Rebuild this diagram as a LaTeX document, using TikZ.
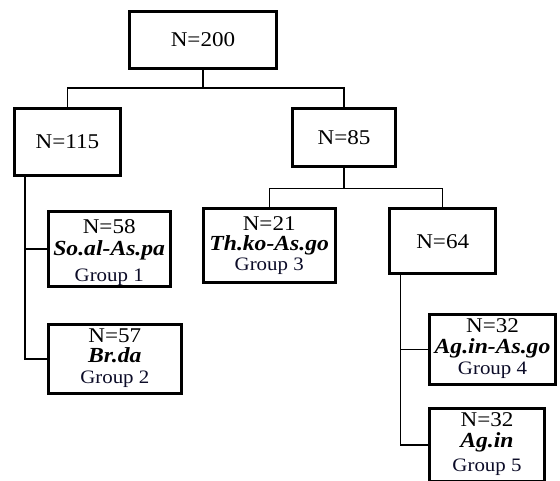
\documentclass[tikz,border=0pt]{standalone}
\usepackage{fontspec}
\usepackage{array}
\setmainfont[FakeStretch=1.1]{Liberation Serif}
\usetikzlibrary{positioning}
\definecolor{groupink}{RGB}{12,12,40}
\setlength{\tabcolsep}{0pt}
\tikzstyle{bigbox} = [rectangle, draw=black, line width=3pt, fill=white, text centered, font=\fontsize{21}{22}\selectfont]
\tikzstyle{groupbox} = [rectangle, draw=black, line width=3pt, fill=white, inner sep=0pt, text centered, font=\fontsize{21}{19}\selectfont]
\tikzstyle{line} = [line width=1.4pt]
\newcommand{\taxon}[1]{{\fontsize{21.5}{19}\selectfont\bfseries\itshape #1}}
\newcommand{\grouplabel}[1]{{\fontsize{19}{19}\selectfont\color{groupink}#1}}

\begin{document}
\begin{tikzpicture}[x=1pt, y=-1pt, node distance=37pt]

\useasboundingbox [fill=white] (0,0) rectangle (560,481);

% First split
\node (root) [bigbox, minimum width=147pt, minimum height=57pt] at (203,40) {N=200};
\node (n115) [bigbox, minimum width=106pt, minimum height=67pt, below=37pt of root, xshift=-135.5pt] {N=115};
\node (n85) [bigbox, minimum width=103pt, minimum height=58pt, below=37pt of root, xshift=141pt] {N=85};

% Second split
\node (n21) [groupbox, minimum width=132pt, minimum height=74.3pt, below=38.7pt of n85, xshift=-74.8pt] {
    \begin{tabular}{c}
    \noalign{\vskip 2pt}
    N=21 \\
    \taxon{Th.ko-As.go} \\[1pt]
    \grouplabel{Group 3}
    \end{tabular}
};
\node (n64) [bigbox, minimum width=105.5pt, minimum height=65.5pt, below=39pt of n85, xshift=98.7pt] {N=64};

% Groups under N=115
\node (n58) [groupbox, minimum width=122pt, minimum height=75pt, below=33pt of n115, xshift=41.7pt] {
    \begin{tabular}{c}
    \noalign{\vskip 8pt}
    N=58 \\[1pt]
    \taxon{So.al-As.pa} \\[7pt]
    \grouplabel{Group 1}
    \end{tabular}
};
\node (n57) [groupbox, minimum width=132.7pt, minimum height=69.7pt, below=34.3pt of n58, xshift=5.6pt] {
    \begin{tabular}{c}
    N=57 \\
    \taxon{Br.da} \\[2pt]
    \grouplabel{Group 2}
    \end{tabular}
};

% Groups under N=64
\node (n32a) [groupbox, minimum width=126pt, minimum height=70pt, below=37.2pt of n64, xshift=49.8pt] {
    \begin{tabular}{c}
    N=32 \\
    \taxon{Ag.in-As.go} \\[2pt]
    \grouplabel{Group 4}
    \end{tabular}
};
\node (n32b) [groupbox, minimum width=115pt, minimum height=73.6pt, below=21pt of n32a, xshift=-5.5pt] {
    \begin{tabular}{c}
    N=32 \\
    \taxon{Ag.in} \\[5pt]
    \grouplabel{Group 5}
    \end{tabular}
};

% Connectors
\coordinate (split1) at ([yshift=-18pt]root.south);
\coordinate (split2) at ([yshift=-20.5pt]n85.south);
\coordinate (stem1) at ([xshift=12pt]n115.south west);
\coordinate (stem2) at ([xshift=12pt]n64.south west);

\draw [line] (root) -- (split1);
\draw [line] (n115) |- (split1) -| (n85);
\draw [line] (n85) -- (split2);
\draw [line] (n21) |- (split2) -| (n64);
\draw [line] (stem1) |- (n58);
\draw [line] (stem1) |- (n57);
\draw [line] (stem2) |- (n32a);
\draw [line] (stem2) |- (n32b);

\end{tikzpicture}
\end{document}
